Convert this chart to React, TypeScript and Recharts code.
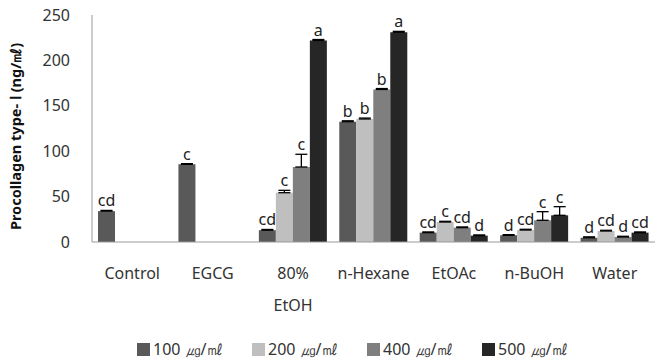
import { BarChart, Bar, XAxis, YAxis, ErrorBar, LabelList, Legend } from 'recharts';

const categories = ['Control', 'EGCG', '80%\nEtOH', 'n-Hexane', 'EtOAc', 'n-BuOH', 'Water'];

const v100 = [34, 85.5, 13, 132.5, 10.3, 7.3, 4.7];
const v200 = [null, null, 54.3, 135.5, 22, 13.2, 12.1];
const v400 = [null, null, 82.6, 168, 15.8, 23.9, 5.5];
const v500 = [null, null, 222, 231, 7, 29.4, 10.3];

const e100 = [0.8, 0.8, 0.8, 1, 0.8, 0.8, 1];
const e200 = [null, null, 2.6, 1, 0.8, 0.8, 0.8];
const e400 = [null, null, 14, 1, 0.8, 9.5, 0.8];
const e500 = [null, null, 1, 1, 0.8, 9.5, 0.8];

const l100 = ['cd', 'c', 'cd', 'b', 'cd', 'd', 'd'];
const l200 = ['', '', 'c', 'b', 'c', 'cd', 'cd'];
const l400 = ['', '', 'c', 'b', 'cd', 'c', 'd'];
const l500 = ['', '', 'a', 'a', 'd', 'c', 'cd'];

const yTicks = [0, 50, 100, 150, 200, 250];

const series = [
  { key: '100', name: '100 ㎍/㎖', color: '#595959', values: v100, errs: e100, letters: l100 },
  { key: '200', name: '200 ㎍/㎖', color: '#bfbfbf', values: v200, errs: e200, letters: l200 },
  { key: '400', name: '400 ㎍/㎖', color: '#7f7f7f', values: v400, errs: e400, letters: l400 },
  { key: '500', name: '500 ㎍/㎖', color: '#262626', values: v500, errs: e500, letters: l500 },
];

const data = categories.map((name, i) => {
  const row: any = { name };
  series.forEach(s => {
    const v = s.values[i];
    const e = s.errs[i];
    row['v' + s.key] = v;
    row['e' + s.key] = v == null ? null : e;
    row['err' + s.key] = v == null ? null : [0, e];
    row['l' + s.key] = s.letters[i];
  });
  return row;
});

const FONT = '"Noto Sans", sans-serif';

const XTick = (props: any) => {
  const { x, y, payload } = props;
  const lines = String(payload.value).split('\n');
  return (
    <text x={x} y={y} textAnchor="middle" fontFamily={FONT} fontSize={16} fill="#333">
      {lines.map((ln, i) => (
        <tspan key={i} x={x} dy={i === 0 ? 29 : 32}>{ln}</tspan>
      ))}
    </text>
  );
};

const YLabel = (props: any) => {
  const vb = props.viewBox;
  const cy = vb.y + vb.height / 2 + 8;
  return (
    <text x={21} y={cy} transform={`rotate(-90, 21, ${cy})`} textAnchor="middle" fontFamily={FONT} fontSize={14.5} fontWeight="bold" fill="#111">
      Procollagen type- Ⅰ (ng/㎖)
    </text>
  );
};

const LegendBox = () => (
  <div style={{ display: 'flex', justifyContent: 'flex-start', paddingLeft: 137, paddingTop: 8, fontFamily: FONT, fontSize: 16, color: '#333' }}>
    {series.map(s => (
      <div key={s.key} style={{ display: 'flex', alignItems: 'center', width: 115 }}>
        <span style={{ display: 'inline-block', width: 13, height: 13, background: s.color, marginRight: 3 }} />
        <span>{s.name}</span>
      </div>
    ))}
  </div>
);

export default function App() {
  return (
    <div style={{ position: 'absolute', left: 0, top: 0, background: '#fff' }}>
      <BarChart width={661} height={360} data={data} margin={{ top: 15, right: 6, left: 0, bottom: 0 }} barCategoryGap={6} barGap={0}>
        <XAxis dataKey="name" height={88} interval={0} tickLine={false} axisLine={{ stroke: '#999' }} tick={<XTick />} />
        <YAxis width={92} domain={[0, 250]} ticks={yTicks} tickLine={false} axisLine={{ stroke: '#999' }} tickMargin={16}
          tick={{ fontFamily: FONT, fontSize: 16, fill: '#333' }} label={<YLabel />} />
        <Legend verticalAlign="bottom" height={30} content={<LegendBox />} />
        {series.map(s => [
          <Bar key={'v' + s.key} dataKey={'v' + s.key} name={s.name} stackId={'s' + s.key} fill={s.color} isAnimationActive={false}>
            <ErrorBar dataKey={'err' + s.key} width={6} stroke="#000" strokeWidth={1.3} direction="y" />
          </Bar>,
          <Bar key={'e' + s.key} dataKey={'e' + s.key} stackId={'s' + s.key} fill="transparent" legendType="none" isAnimationActive={false}>
            <LabelList dataKey={'l' + s.key} position="top" offset={4} fontFamily={FONT} fontSize={16} fill="#222" />
          </Bar>,
        ])}
      </BarChart>
    </div>
  );
}
